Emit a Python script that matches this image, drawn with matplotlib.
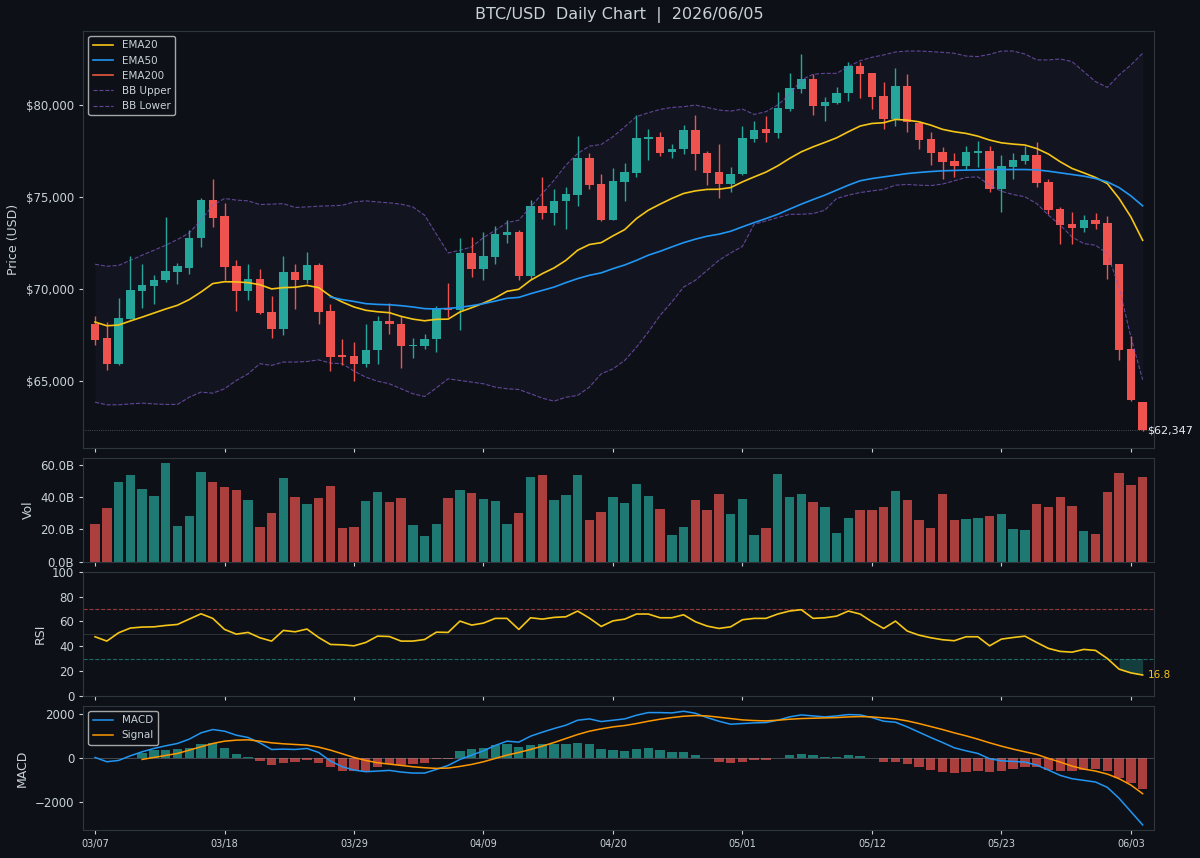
import numpy as np
import pandas as pd
import matplotlib
matplotlib.use("Agg")
import matplotlib.pyplot as plt
from matplotlib.ticker import FuncFormatter

# Colours of the dark theme
bg = '#0d1117'
fg = '#c9d1d9'
edge = '#30363d'
upColor = '#26a69a'
downColor = '#ef5350'

dates = pd.date_range('2026-03-07', periods=90, freq='D')

# Daily candles (USD)
openPrice = [68130, 67330, 65960, 68400, 69890, 70180, 70490, 70940, 71180, 72790,
             74870, 73970, 71270, 69910, 70540, 68770, 67840, 70960, 70490, 71340,
             68820, 66410, 66370, 65960, 66720, 68260, 68130, 66920, 66920, 67280,
             69000, 68890, 71970, 71080, 71750, 72950, 73110, 70700, 74510, 74150,
             74800, 75140, 77150, 75740, 73780, 75800, 76320, 78150, 78240, 77430,
             77590, 78640, 77370, 76340, 75710, 76250, 78130, 78680, 78460, 79760,
             80850, 81390, 79940, 80130, 80630, 82120, 81720, 80490, 79220, 81030,
             79040, 78130, 77430, 76970, 76680, 77410, 77520, 75430, 76650, 76960,
             77280, 75830, 74350, 73570, 73350, 73750, 73600, 71360, 66770, 63870]
closePrice = [67260, 65960, 68460, 69940, 70210, 70520, 70990, 71250, 72810, 74870,
              73890, 71210, 69910, 70540, 68710, 67840, 70960, 70490, 71340, 68770,
              66320, 66320, 65960, 66720, 68260, 68090, 66900, 66990, 67320, 69000,
              68890, 71970, 71080, 71790, 72990, 73100, 70700, 74510, 74150, 74800,
              75160, 77140, 75650, 73780, 75890, 76380, 78190, 78280, 77410, 77640,
              78640, 77340, 76320, 75710, 76280, 78190, 78640, 78500, 79820, 80910,
              81390, 79940, 80180, 80630, 82120, 81680, 80420, 79220, 81030, 79090,
              78100, 77370, 76920, 76680, 77460, 77520, 75430, 76680, 77010, 77280,
              75780, 74290, 73480, 73350, 73750, 73530, 71300, 66720, 64000, 62347]
highPrice = [68550, 68220, 69530, 71790, 71360, 70790, 73930, 71430, 73200, 74950,
             76010, 74690, 71610, 71360, 71100, 69620, 71790, 71390, 72030, 71430,
             69180, 67320, 67130, 68130, 68530, 69250, 68530, 67370, 67590, 69070,
             70340, 72810, 72840, 73110, 73420, 73780, 73200, 74870, 76100, 75420,
             75560, 78310, 77370, 76250, 76560, 76860, 79460, 78690, 78550, 77860,
             78910, 79460, 77520, 77880, 76610, 78860, 79130, 79400, 80720, 81760,
             82770, 81680, 80450, 81000, 82360, 82320, 81760, 81270, 81990, 81670,
             79100, 78550, 77730, 77370, 77770, 78060, 77770, 77280, 77370, 77770,
             78010, 76010, 74470, 74200, 74020, 74150, 73970, 71390, 67440, 63900]
lowPrice = [66950, 65630, 65870, 68400, 69000, 69220, 70400, 70310, 70850, 72300,
            73390, 70490, 68800, 69400, 68640, 67370, 67500, 68930, 70340, 68130,
            65560, 65870, 65000, 65780, 65960, 67550, 65740, 66280, 66770, 66590,
            68490, 67770, 70670, 70490, 71390, 72520, 70520, 70580, 73840, 73480,
            73290, 74510, 75470, 73700, 73750, 74800, 76100, 77010, 77230, 77150,
            77340, 76470, 75650, 74930, 75290, 76200, 78010, 78010, 78190, 79700,
            80670, 79460, 79150, 80050, 80240, 80360, 79760, 78680, 78860, 78550,
            77590, 76740, 76010, 76070, 76500, 76610, 75290, 74200, 75960, 76790,
            75560, 74110, 72480, 72440, 73110, 73290, 70580, 66140, 63950, 62300]

# Overlays
ema20 = [68220, 68020, 68060, 68280, 68490, 68710, 68930, 69130, 69440, 69850,
         70310, 70410, 70400, 70360, 70250, 70020, 70090, 70110, 70210, 70090,
         69630, 69310, 69040, 68860, 68780, 68730, 68530, 68380, 68290, 68370,
         68380, 68770, 69000, 69250, 69530, 69890, 70000, 70490, 70850, 71160,
         71570, 72120, 72430, 72530, 72900, 73240, 73840, 74290, 74620, 74930,
         75200, 75340, 75420, 75430, 75520, 75830, 76100, 76360, 76700, 77100,
         77460, 77730, 77970, 78220, 78550, 78860, 79000, 79040, 79220, 79180,
         79090, 78910, 78680, 78550, 78460, 78310, 78100, 77950, 77880, 77830,
         77640, 77340, 76920, 76560, 76320, 76070, 75740, 74930, 73930, 72660]
ema50 = [np.nan] * 20 + [
         69580, 69440, 69340, 69220, 69180, 69160, 69110, 69040, 68950, 68930,
         68960, 69020, 69110, 69220, 69360, 69510, 69560, 69760, 69940, 70120,
         70360, 70580, 70760, 70890, 71120, 71320, 71570, 71850, 72060, 72300,
         72530, 72720, 72880, 72990, 73150, 73390, 73620, 73840, 74070, 74350,
         74620, 74870, 75110, 75380, 75650, 75890, 76010, 76100, 76190, 76280,
         76340, 76390, 76430, 76450, 76470, 76480, 76500, 76500, 76500, 76500,
         76480, 76410, 76320, 76230, 76140, 76010, 75830, 75520, 75070, 74530]
bbUpper = [71360, 71250, 71300, 71570, 71850, 72120, 72390, 72700, 73060, 73750,
           74560, 74930, 74840, 74800, 74600, 74620, 74650, 74440, 74470, 74510,
           74530, 74560, 74740, 74800, 74740, 74690, 74620, 74470, 74020, 72990,
           71970, 72120, 72300, 72810, 73200, 73620, 73750, 74470, 75200, 75920,
           76740, 77370, 77770, 77860, 78280, 78820, 79370, 79580, 79760, 79870,
           79910, 80000, 79870, 79730, 79670, 79780, 79490, 79640, 80000, 80580,
           81360, 81670, 81720, 81720, 82080, 82410, 82590, 82720, 82880, 82930,
           82930, 82900, 82860, 82810, 82660, 82630, 82750, 82930, 82930, 82770,
           82450, 82450, 82500, 82360, 81810, 81270, 80960, 81630, 82170, 82810]
bbLower = [63870, 63730, 63730, 63780, 63820, 63780, 63750, 63750, 64140, 64420,
           64360, 64600, 65050, 65410, 65960, 65870, 66050, 66050, 66080, 66170,
           65990, 65960, 65560, 65230, 65010, 64870, 64600, 64330, 64180, 64650,
           65140, 65050, 64960, 64870, 64690, 64600, 64560, 64330, 64090, 63930,
           64140, 64240, 64690, 65410, 65680, 66140, 66860, 67680, 68580, 69310,
           70120, 70490, 71030, 71570, 71970, 72330, 73530, 73710, 73890, 74070,
           74070, 74110, 74290, 74930, 75110, 75250, 75340, 75420, 75650, 75690,
           75650, 75630, 75710, 75890, 76070, 76100, 75650, 75320, 75140, 75020,
           74650, 74020, 73480, 72840, 72480, 72390, 71940, 70120, 67410, 65090]

# Volume in billions
volume = [23.3, 33.4, 49.3, 54.0, 45.0, 40.8, 61.2, 22.3, 28.0, 55.3,
          49.5, 46.4, 44.7, 38.4, 21.2, 30.3, 51.6, 40.2, 35.5, 39.2,
          46.6, 20.8, 21.7, 37.5, 42.9, 36.7, 39.6, 22.7, 15.9, 23.1,
          39.6, 44.7, 42.7, 38.6, 37.5, 23.5, 29.9, 52.2, 53.6, 37.9,
          41.2, 54.0, 25.8, 30.7, 39.8, 36.5, 48.3, 40.4, 32.6, 16.5,
          21.7, 37.9, 32.0, 41.7, 29.3, 39.0, 16.5, 20.6, 54.2, 39.8,
          41.9, 36.7, 33.6, 17.9, 26.8, 32.2, 32.2, 34.0, 43.5, 38.4,
          25.8, 20.8, 41.7, 25.8, 26.4, 27.2, 28.0, 29.7, 20.4, 19.6,
          35.7, 33.6, 40.2, 34.4, 19.2, 17.3, 43.3, 55.1, 47.6, 52.2]

rsi = [47.6, 44.1, 50.8, 54.6, 55.4, 55.6, 56.7, 57.5, 61.8, 66.1,
       62.4, 53.5, 49.7, 51.1, 46.8, 44.1, 52.7, 51.6, 53.8, 47.0,
       41.4, 41.1, 40.3, 43.0, 48.1, 47.8, 44.1, 44.1, 45.4, 51.3,
       51.1, 60.2, 57.0, 58.6, 62.4, 62.4, 53.5, 62.9, 61.8, 63.2,
       63.7, 68.3, 62.6, 55.9, 60.4, 61.8, 65.9, 65.9, 62.9, 62.9,
       65.3, 59.7, 56.2, 54.3, 55.6, 61.3, 62.4, 62.4, 65.9, 68.3,
       69.4, 62.4, 62.9, 64.2, 68.3, 65.9, 59.7, 54.3, 60.2, 52.2,
       48.9, 46.8, 45.2, 44.4, 47.6, 47.6, 40.3, 45.7, 47.0, 48.1,
       43.0, 38.2, 35.8, 35.2, 37.4, 36.6, 30.1, 21.5, 18.5, 16.8]

macd = [30, -167, -106, 106, 289, 441, 562, 669, 866, 1155,
        1307, 1231, 1049, 942, 699, 395, 410, 395, 441, 258,
        -137, -395, -547, -623, -593, -562, -638, -684, -684, -517,
        -334, -61, 137, 334, 578, 775, 730, 1003, 1186, 1353,
        1505, 1733, 1794, 1672, 1733, 1794, 1961, 2082, 2082, 2067,
        2143, 2052, 1854, 1687, 1550, 1581, 1611, 1626, 1733, 1885,
        1976, 1930, 1885, 1930, 1991, 1976, 1854, 1687, 1642, 1429,
        1186, 942, 714, 471, 334, 213, -30, -122, -152, -182,
        -319, -547, -790, -942, -1018, -1094, -1338, -1839, -2447, -3055]
signal = [np.nan] * 4 + [
          -61, 30, 122, 213, 365, 517,
          669, 775, 821, 836, 775, 699, 654, 623, 593, 502,
          365, 198, 30, -106, -213, -274, -334, -395, -441, -471,
          -456, -380, -289, -167, -15, 137, 258, 395, 547, 714,
          897, 1079, 1231, 1338, 1429, 1490, 1581, 1687, 1778, 1854,
          1915, 1946, 1930, 1870, 1809, 1748, 1718, 1702, 1733, 1778,
          1809, 1824, 1839, 1854, 1885, 1900, 1885, 1839, 1794, 1702,
          1581, 1444, 1307, 1155, 1018, 866, 699, 547, 410, 289,
          167, -15, -182, -365, -502, -593, -730, -942, -1231, -1626]
macdHist = [np.nan] * 4 + [
            243, 365, 365, 410, 471, 638,
            699, 471, 182, 46, -137, -319, -213, -182, -106, -213,
            -426, -578, -608, -578, -426, -289, -319, -258, -213, -61,
            -20, 319, 410, 471, 593, 654, 486, 578, 623, 654,
            654, 699, 623, 410, 365, 319, 410, 441, 365, 274,
            258, 137, 0, -167, -243, -167, -106, -91, 0, 122,
            198, 122, 61, 30, 122, 91, 0, -167, -167, -289,
            -426, -547, -638, -669, -654, -578, -654, -608, -502, -426,
            -426, -547, -593, -593, -547, -517, -593, -912, -1155, -1429]

o = np.array(openPrice, dtype=float)
c = np.array(closePrice, dtype=float)
h = np.array(highPrice, dtype=float)
l = np.array(lowPrice, dtype=float)
x = np.arange(len(c))
rising = c >= o
candleColors = np.where(rising, upColor, downColor)

plt.rcParams['font.family'] = ['DejaVu Sans']
fig, axes = plt.subplots(4, 1, figsize=(12, 8.58), dpi=100, sharex=True,
                         gridspec_kw={'height_ratios': [416, 104, 124, 124], 'hspace': 0.052})
fig.patch.set_facecolor(bg)
fig.subplots_adjust(left=0.0694, right=0.962, top=0.9639, bottom=0.0326)
axPrice, axVol, axRsi, axMacd = axes

for ax in axes:
    ax.set_facecolor(bg)
    for s in ax.spines.values():
        s.set_color(edge)
    ax.tick_params(colors=fg, labelsize=8.5, length=3)

# Price panel
axPrice.fill_between(x, bbLower, bbUpper, color='#7e57c2', alpha=0.05, lw=0)
axPrice.plot(x, bbUpper, '--', color='#7e57c2', lw=0.8, alpha=0.75, label='BB Upper')
axPrice.plot(x, bbLower, '--', color='#7e57c2', lw=0.8, alpha=0.75, label='BB Lower')
axPrice.vlines(x, l, h, color=candleColors, lw=1)
bodyLow = np.minimum(o, c)
bodyHeight = np.maximum(np.abs(c - o), 40)
axPrice.bar(x, bodyHeight, bottom=bodyLow, width=0.72, color=candleColors)
axPrice.plot(x, ema20, color='#f5c518', lw=1.2, label='EMA20')
axPrice.plot(x, ema50, color='#2196f3', lw=1.2, label='EMA50')
axPrice.plot([], [], color='#e8583c', lw=1.2, label='EMA200')
handles, labels = axPrice.get_legend_handles_labels()
order = [labels.index(k) for k in ['EMA20', 'EMA50', 'EMA200', 'BB Upper', 'BB Lower']]
axPrice.legend([handles[i] for i in order], [labels[i] for i in order],
               loc='upper left', fontsize=7.5, facecolor=bg, edgecolor='0.8', labelcolor=fg)
axPrice.axhline(c[-1], color='#8b949e', lw=0.6, ls=':', alpha=0.6)
axPrice.text(x[-1] + 0.4, c[-1], f'${c[-1]:,.0f}', color='#e6edf3', fontsize=8,
             va='center', ha='left', clip_on=False)
axPrice.set_ylim(61410, 84020)
axPrice.set_yticks([65000, 70000, 75000, 80000])
axPrice.yaxis.set_major_formatter(FuncFormatter(lambda v, p: f'${v:,.0f}'))
axPrice.set_ylabel('Price (USD)', color=fg, fontsize=9)

# Volume
volColors = np.where(rising, upColor, downColor)
axVol.bar(x, np.array(volume) * 1e9, width=0.8, color=volColors, alpha=0.7)
axVol.set_ylim(0, 64.5e9)
axVol.set_yticks([0, 20e9, 40e9, 60e9])
axVol.yaxis.set_major_formatter(FuncFormatter(lambda v, p: f'{v / 1e9:.1f}B'))
axVol.set_ylabel('Vol', color=fg, fontsize=9)

# RSI
rsiArr = np.array(rsi)
axRsi.axhline(70, color=downColor, ls='--', lw=0.8, alpha=0.6)
axRsi.axhline(30, color=upColor, ls='--', lw=0.8, alpha=0.6)
axRsi.axhline(50, color='#8b949e', lw=0.6, alpha=0.3)
axRsi.fill_between(x, rsiArr, 30, where=rsiArr < 30, color=upColor, alpha=0.3, lw=0)
axRsi.plot(x, rsiArr, color='#f5c518', lw=1.2)
axRsi.text(x[-1] + 0.4, rsiArr[-1], f'{rsiArr[-1]:.1f}', color='#f5c518', fontsize=7.5,
           va='center', ha='left', clip_on=False)
axRsi.set_ylim(0, 100)
axRsi.set_yticks([0, 20, 40, 60, 80, 100])
axRsi.set_ylabel('RSI', color=fg, fontsize=9)

# MACD
histArr = np.array(macdHist, dtype=float)
histColors = np.where(histArr >= 0, upColor, downColor)
axMacd.bar(x, histArr, width=0.8, color=histColors, alpha=0.7)
axMacd.axhline(0, color='#8b949e', lw=0.6, alpha=0.5)
axMacd.plot(x, macd, color='#2196f3', lw=1.1, label='MACD')
axMacd.plot(x, signal, color='#ff9800', lw=1.1, label='Signal')
axMacd.legend(loc='upper left', fontsize=7.5, facecolor=bg, edgecolor='0.8', labelcolor=fg)
axMacd.set_ylim(-3290, 2390)
axMacd.set_yticks([-2000, 0, 2000])
axMacd.set_ylabel('MACD', color=fg, fontsize=9)

axMacd.set_xlim(-1, 90)
tickIdx = x[::11]
axMacd.set_xticks(tickIdx)
axMacd.set_xticklabels([dates[i].strftime('%m/%d') for i in tickIdx], fontsize=7)

# Title centred over the axes
fig.text(0.5157, 1 - 15 / 858, 'BTC/USD  Daily Chart  |  2026/06/05', color=fg,
         fontsize=11.5, ha='center', va='center')

fig.savefig('out.png', dpi=100, facecolor=bg)
